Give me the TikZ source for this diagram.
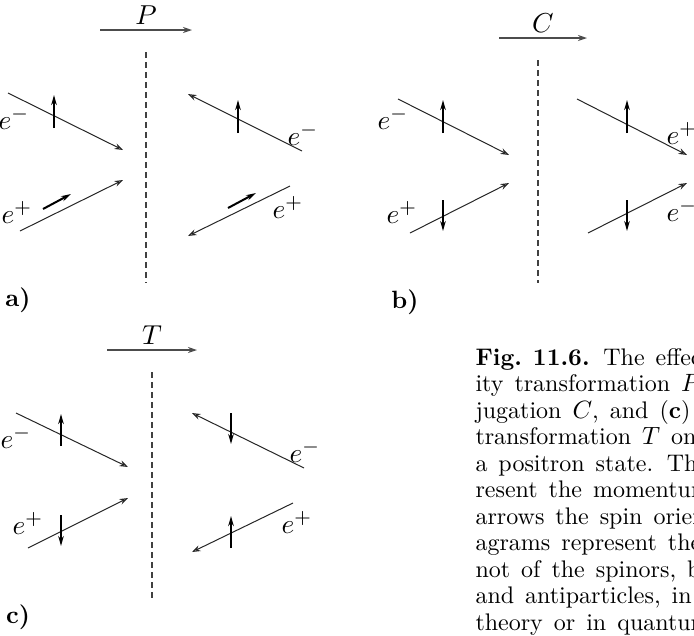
\documentclass[tikz,border=0pt]{standalone}
\usetikzlibrary{arrows.meta}

\begin{document}
\begin{tikzpicture}[x=0.4pt, y=-0.4pt,
  momentum/.style={-{Stealth[open, length=3.4pt, width=2.4pt]}, line width=0.4pt, black!85},
  spin/.style={-{Stealth[length=4pt, width=2.2pt]}, line width=0.8pt},
  mirror/.style={dash pattern=on 2.4pt off 1.6pt, line width=0.45pt, black!75},
  trafo/.style={-{Stealth[open, length=3.6pt, width=2.4pt]}, line width=0.5pt, black!70},
  lbl/.style={inner sep=0pt, font=\fontsize{11}{13}\selectfont},
  tag/.style={inner sep=0pt, font=\bfseries}]

  \clip (0,0) rectangle (694,635);

  % (a) parity
  \draw [trafo] (100,30) -- node[above=2pt, lbl, black] (opP) {$P$} (192,30);
  \draw [mirror] (146,52) -- (146,283);
  \draw [momentum] (8,93) -- (123,150);
  \draw [spin] (54,128) -- (54,95);
  \node [lbl] (aLm) at (14,118) {$e^-$};
  \draw [momentum] (20,231) -- (123,180);
  \draw [spin] (43,209) -- (71,194);
  \node [lbl] (aLp) at (17,212) {$e^+$};
  \draw [momentum] (302,151) -- (188,94);
  \draw [spin] (238,133) -- (238,100);
  \node [lbl] (aRm) at (303,134) {$e^-$};
  \draw [momentum] (290,186) -- (188,236);
  \draw [spin] (228,208) -- (256,193);
  \node [lbl] (aRp) at (288,207) {$e^+$};
  \node [tag] (tagA) at (18,300) {a)};

  % (b) charge conjugation
  \draw [trafo] (499,38) -- node[above=2pt, lbl, black] (opC) {$C$} (587,38);
  \draw [mirror] (538,60) -- (538,283);
  \draw [momentum] (398,99) -- (509,155);
  \draw [spin] (443,133) -- (443,100);
  \node [lbl] (bLm) at (393,118) {$e^-$};
  \draw [momentum] (410,233) -- (509,183);
  \draw [spin] (443,200) -- (443,231);
  \node [lbl] (bLp) at (402,212) {$e^+$};
  \draw [momentum] (577,99) -- (687,155);
  \draw [spin] (627,133) -- (627,100);
  \node [lbl] (bRp) at (682,133) {$e^+$};
  \draw [momentum] (588,233) -- (687,183);
  \draw [spin] (627,200) -- (627,231);
  \node [lbl] (bRm) at (682,210) {$e^-$};
  \node [tag] (tagB) at (405,302) {b)};

  % (c) time reversal
  \draw [trafo] (107,350) -- node[above=2pt, lbl, black] (opT) {$T$} (197,350);
  \draw [mirror] (152,372) -- (152,598);
  \draw [momentum] (16,413) -- (128,467);
  \draw [spin] (61,446) -- (61,414);
  \node [lbl] (cLm) at (16,437) {$e^-$};
  \draw [momentum] (28,548) -- (128,498);
  \draw [spin] (61,515) -- (61,546);
  \node [lbl] (cLp) at (28,523) {$e^+$};
  \draw [momentum] (304,468) -- (192,413);
  \draw [spin] (231,413) -- (231,444);
  \node [lbl] (cRm) at (305,451) {$e^-$};
  \draw [momentum] (293,503) -- (192,552);
  \draw [spin] (231,548) -- (231,516);
  \node [lbl] (cRp) at (297,522) {$e^+$};
  \node [tag] (tagC) at (18,617) {c)};

  % caption, cut by the right margin
  \node [anchor=north west, inner sep=0pt, align=left,
         font={\fontsize{9.6}{10.6}\selectfont\spaceskip=4.4pt plus 1pt\relax}] (caption) at (475,348)
    {\textbf{Fig.~11.6.} The effec\\
     ity transformation $P$\\
     jugation $C$, and (\textbf{c})\\
     transformation $T$ on\\
     a positron state. The\\
     resent the momentum\\
     arrows the spin orien\\
     agrams represent the\\
     not of the spinors, bu\\
     and antiparticles, in\\
     theory or in quantum};
\end{tikzpicture}
\end{document}
